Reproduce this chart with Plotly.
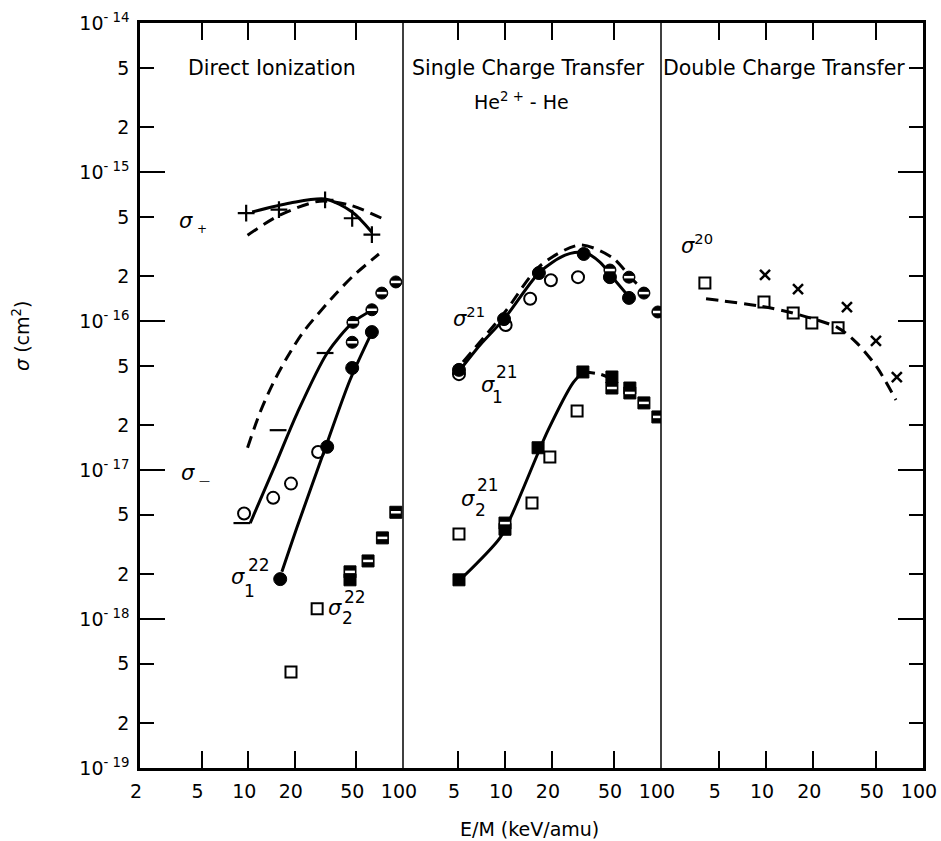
import math
import plotly.graph_objects as go

# ---------------- data ----------------
# Panel 1: Direct ionization
splus_pts_E = [9.7, 15.8, 31.4, 47, 63]
splus_pts_s = [5.3e-16, 5.6e-16, 6.5e-16, 4.9e-16, 3.8e-16]
splus_fit_E = [10.6, 18.7, 31.4, 47, 63]
splus_fit_s = [5.4e-16, 6.2e-16, 6.6e-16, 5.4e-16, 3.95e-16]
splus_th_E = [9.9, 16, 29, 45.5, 73]
splus_th_s = [3.77e-16, 5.14e-16, 6.38e-16, 6.0e-16, 4.9e-16]

sminus_th_E = [9.9, 11.9, 14.5, 17.9, 22.6, 35.3, 47.5, 70]
sminus_th_s = [1.41e-17, 2.42e-17, 3.84e-17, 5.73e-17, 8.4e-17, 1.45e-16, 2.0e-16, 2.82e-16]
sminus_fit_E = [10.3, 14.5, 20.7, 32.4, 47.5, 64]
sminus_fit_s = [4.4e-18, 1.0e-17, 2.4e-17, 6.1e-17, 9.8e-17, 1.19e-16]
sminus_dash_E = [9.1, 15.6, 31.4]
sminus_dash_s = [4.4e-18, 1.85e-17, 6.1e-17]
sminus_open_E = [9.4, 14.5, 18.9, 28.3]
sminus_open_s = [5.1e-18, 6.5e-18, 8.1e-18, 1.32e-17]
sminus_half_E = [47, 47.5, 63, 73, 90]
sminus_half_s = [7.2e-17, 9.8e-17, 1.19e-16, 1.54e-16, 1.83e-16]

s122_fit_E = [16.5, 20.7, 30, 45.5, 64]
s122_fit_s = [2.07e-18, 4.14e-18, 1.22e-17, 4.02e-17, 8.7e-17]
s122_pts_E = [16.1, 32.4, 47, 63]
s122_pts_s = [1.85e-18, 1.43e-17, 4.84e-17, 8.43e-17]

s222_open_E = [18.9, 27.9]
s222_open_s = [4.4e-19, 1.17e-18]
s222_fill_E = [45.5]
s222_fill_s = [1.83e-18]
s222_half_E = [45.5, 59.5, 73.7, 90]
s222_half_s = [2.07e-18, 2.45e-18, 3.5e-18, 5.2e-18]

# Panel 2: Single charge transfer
s21_fit_E = [5.15, 6.92, 10, 16.7, 24.3, 32, 40.6, 50.7, 63.2]
s21_fit_s = [4.69e-17, 6.9e-17, 1.05e-16, 2.13e-16, 2.77e-16, 2.9e-16, 2.49e-16, 1.88e-16, 1.43e-16]
s21_th_E = [5.38, 10, 16.7, 30.3, 49.2, 66.3, 81.3]
s21_th_s = [5.31e-17, 1.15e-16, 2.34e-16, 3.24e-16, 2.65e-16, 1.88e-16, 1.57e-16]
s21_fill_E = [5.07, 9.86, 16.5, 32, 47.1, 62.4]
s21_fill_s = [4.7e-17, 1.03e-16, 2.1e-16, 2.82e-16, 1.97e-16, 1.43e-16]
s121_open_E = [5.07, 10.1, 14.5, 19.7, 29.4]
s121_open_s = [4.4e-17, 9.4e-17, 1.41e-16, 1.88e-16, 1.97e-16]
s21_half_E = [47.1, 62.4, 77.8, 95.6]
s21_half_s = [2.2e-16, 1.97e-16, 1.54e-16, 1.15e-16]

s221_fit_E = [5.38, 9.29, 11.2, 16.3, 18.9, 27.3, 31.6]
s221_fit_s = [1.91e-18, 3.5e-18, 5.14e-18, 1.3e-17, 1.85e-17, 3.84e-17, 4.55e-17]
s221_tail_E = [31.6, 40.6, 52]
s221_tail_s = [4.55e-17, 4.4e-17, 3.95e-17]
s221_fill_E = [5.07, 10, 16.3, 31.6, 48.5, 63.2]
s221_fill_s = [1.83e-18, 4.0e-18, 1.41e-17, 4.55e-17, 4.21e-17, 3.55e-17]
s221_half_E = [10, 48.5, 63.2, 77.8, 95.6]
s221_half_s = [4.4e-18, 3.55e-17, 3.29e-17, 2.82e-17, 2.27e-17]
s221_open_E = [5.07, 14.9, 19.4, 29]
s221_open_s = [3.72e-18, 6.0e-18, 1.22e-17, 2.49e-17]

# Panel 3: Double charge transfer
s20_sq_E = [4.08, 9.71, 14.9, 19.6, 28.8]
s20_sq_s = [1.8e-16, 1.34e-16, 1.13e-16, 9.7e-17, 9.0e-17]
s20_x_E = [9.86, 16, 32.8, 50.2, 68.2]
s20_x_s = [2.04e-16, 1.64e-16, 1.24e-16, 7.35e-17, 4.2e-17]
s20_th_E = [4.15, 9.16, 14.9, 28.8, 38, 50.9, 67.3]
s20_th_s = [1.41e-16, 1.26e-16, 1.13e-16, 9.0e-17, 7.1e-17, 4.9e-17, 2.95e-17]

# ticks
x1_ticks = [2, 5, 10, 20, 50, 100]
x23_ticks = [5, 10, 20, 50, 100]
y_decades = [1e-19, 1e-18, 1e-17, 1e-16, 1e-15, 1e-14]
y_exps = [19, 18, 17, 16, 15, 14]

# ---------------- figure ----------------
FONT = "DejaVu Sans"
fig = go.Figure()


def add(xa, E, s, **kw):
    fig.add_trace(go.Scatter(x=E, y=s, xaxis=xa, yaxis="y", showlegend=False,
                             hoverinfo="skip", **kw))


def solid(xa, E, s, w=3):
    add(xa, E, s, mode="lines", line=dict(color="black", width=w, shape="spline", smoothing=0.8))


def dashed(xa, E, s):
    add(xa, E, s, mode="lines", line=dict(color="black", width=3, dash="12px,7px",
                                          shape="spline", smoothing=0.8))


def mk(xa, E, s, symbol, size=12, lw=2.2):
    add(xa, E, s, mode="markers",
        marker=dict(symbol=symbol, size=size, color="black",
                    line=dict(color="black", width=lw)))


def half(xa, E, s, base):
    add(xa, E, s, mode="markers",
        marker=dict(symbol=base, size=12, color="black", line=dict(color="black", width=1)))
    add(xa, E, s, mode="markers",
        marker=dict(symbol="line-ew", size=7, line=dict(color="white", width=2.5)))


# panel 1
dashed("x", splus_th_E, splus_th_s)
solid("x", splus_fit_E, splus_fit_s)
mk("x", splus_pts_E, splus_pts_s, "cross-thin", 12, 2.2)
dashed("x", sminus_th_E, sminus_th_s)
solid("x", sminus_fit_E, sminus_fit_s)
mk("x", sminus_dash_E, sminus_dash_s, "line-ew", 12, 2.2)
mk("x", sminus_open_E, sminus_open_s, "circle-open", 12, 2)
half("x", sminus_half_E, sminus_half_s, "circle")
solid("x", s122_fit_E, s122_fit_s)
mk("x", s122_pts_E, s122_pts_s, "circle", 13, 1)
mk("x", s222_open_E, s222_open_s, "square-open", 11, 2)
mk("x", s222_fill_E, s222_fill_s, "square", 12, 1)
half("x", s222_half_E, s222_half_s, "square")

# panel 2
dashed("x2", s21_th_E, s21_th_s)
solid("x2", s21_fit_E, s21_fit_s)
mk("x2", s121_open_E, s121_open_s, "circle-open", 12, 2)
mk("x2", s21_fill_E, s21_fill_s, "circle", 13, 1)
half("x2", s21_half_E, s21_half_s, "circle")
solid("x2", s221_fit_E, s221_fit_s)
dashed("x2", s221_tail_E, s221_tail_s)
mk("x2", s221_open_E, s221_open_s, "square-open", 11, 2)
mk("x2", s221_fill_E, s221_fill_s, "square", 12, 1)
half("x2", s221_half_E, s221_half_s, "square")

# panel 3
dashed("x3", s20_th_E, s20_th_s)
mk("x3", s20_sq_E, s20_sq_s, "square-open", 11, 2)
mk("x3", s20_x_E, s20_x_s, "x-thin", 10, 2.5)

# dummy traces so the overlay (tick) axes exist
for xa, ya in [("x", "y2"), ("x3", "y3"), ("x3", "y4")]:
    fig.add_trace(go.Scatter(x=[None], y=[None], xaxis=xa, yaxis=ya, showlegend=False,
                             hoverinfo="skip", mode="markers"))

# ---------------- layout ----------------
L, R, T, B = 140, 18, 23, 73
W, H = 941, 841
pw = W - L - R
d1 = 263 / pw
d2 = 521 / pw

tickfont = dict(family=FONT, size=19, color="black")
common_x = dict(type="log", anchor="y", ticks="inside", ticklen=17, tickwidth=2,
                tickcolor="black", showline=True, linecolor="black", linewidth=2.5,
                mirror="ticks", showgrid=False, zeroline=False, tickfont=tickfont,
                tickmode="array", ticklabelstandoff=4, ticklabelshift=-4,
                ticklabeloverflow="allow", automargin=False)

yvals = []
ytext = []
for d, e in zip(y_decades, y_exps):
    yvals.append(d)
    ytext.append("10<sup>- %d</sup>" % e)
    if e > 14:
        yvals += [2 * d, 5 * d]
        ytext += ["2", "5"]
minor_vals = [v for v, t in zip(yvals, ytext) if t in ("2", "5")]

yrange = [-19.001, -13.999]
common_y = dict(type="log", range=yrange, showgrid=False, zeroline=False,
                ticks="inside", tickcolor="black", tickwidth=2, tickmode="array",
                automargin=False)

fig.update_layout(
    width=W, height=H,
    margin=dict(l=L, r=R, t=T, b=B, autoexpand=False),
    paper_bgcolor="white", plot_bgcolor="white",
    font=dict(family=FONT, color="black"),
    xaxis=dict(common_x, domain=[0, d1], range=[0.3005, 2.0005],
               tickvals=x1_ticks, ticktext=[str(v) for v in x1_ticks]),
    xaxis2=dict(common_x, domain=[d1, d2], range=[0.346, 2.0005],
                tickvals=x23_ticks, ticktext=[str(v) for v in x23_ticks]),
    xaxis3=dict(common_x, domain=[d2, 1], range=[0.331, 2.0005],
                tickvals=x23_ticks, ticktext=[str(v) for v in x23_ticks]),
    yaxis=dict(common_y, anchor="x", side="left", tickvals=minor_vals + y_decades,
               ticktext=[t for t in ytext if t in ("2", "5")] +
                        ["10<sup>- %d</sup>" % e for e in y_exps],
               ticklen=14, showline=True, linecolor="black", linewidth=2.5,
               tickfont=tickfont, ticklabelstandoff=4, ticklabeloverflow="allow"),
    yaxis2=dict(common_y, overlaying="y", anchor="x", side="left", tickvals=y_decades,
                ticklen=25, showticklabels=False, showline=False),
    yaxis3=dict(common_y, overlaying="y", anchor="x3", side="right", tickvals=minor_vals,
                ticklen=14, showticklabels=False, showline=True, linecolor="black",
                linewidth=2.5),
    yaxis4=dict(common_y, overlaying="y", anchor="x3", side="right", tickvals=y_decades,
                ticklen=25, showticklabels=False, showline=False),
)

# dividers between panels
for xr in ["x domain", "x2 domain"]:
    fig.add_shape(type="line", xref=xr, yref="y domain", x0=1, x1=1, y0=0, y1=1,
                  line=dict(color="black", width=1.5))

ann = []


def txt(text, xref, x, y, size=19, xanchor="center", yanchor="middle", yref="y", **kw):
    ann.append(dict(text=text, xref=xref, yref=yref, x=x, y=y, showarrow=False,
                    xanchor=xanchor, yanchor=yanchor,
                    font=dict(family=FONT, size=size, color="black"), **kw))


# panel titles
txt("Direct Ionization", "x domain", 0.5, 0.94, yref="paper", size=20.5)
txt("Single Charge Transfer", "x2 domain", 0.488, 0.94, yref="paper", size=20.5)
txt("Double Charge Transfer", "x3 domain", 0.469, 0.94, yref="paper", size=20.5)
txt("He<sup>2 +</sup> - He", "x2", 1.103, -14.52, size=19)

# curve labels (annotation coordinates on log axes are log10 values)
txt("<i>σ</i>", "x", 0.60, -15.33, size=21)
txt("+", "x", 0.70, -15.38, size=12)
txt("<i>σ</i>", "x", 0.61, -17.02, size=21)
txt("—", "x", 0.72, -17.07, size=11)
txt("<i>σ</i>", "x", 0.935, -17.72, size=21)
txt("22", "x", 1.07, -17.64, size=17)
txt("1", "x", 1.01, -17.81, size=17)
txt("<i>σ</i>", "x", 1.56, -17.93, size=21)
txt("22", "x", 1.69, -17.85, size=17)
txt("2", "x", 1.64, -17.995, size=17)

txt("<i>σ</i><sup>21</sup>", "x2", 0.77, -15.97, size=21)
txt("<i>σ</i>", "x2", 0.89, -16.43, size=21)
txt("21", "x2", 1.01, -16.345, size=17)
txt("1", "x2", 0.95, -16.51, size=17)
txt("<i>σ</i>", "x2", 0.765, -17.195, size=21)
txt("21", "x2", 0.89, -17.10, size=17)
txt("2", "x2", 0.84, -17.27, size=17)

txt("<i>σ</i><sup>20</sup>", "x3", 0.56, -15.48, size=21)

# axis titles
txt("E/M (keV/amu)", "paper", 0.498, -0.082, yref="paper", size=19)
txt("<i>σ</i> (cm<sup>2</sup>)", "paper", -0.152, 0.58, yref="paper", size=19, textangle=-90)

fig.update_layout(annotations=ann)
fig.write_html("out.html", config={"displayModeBar": False},
               post_script="document.body.style.margin='0px';document.body.style.overflow='hidden';")
